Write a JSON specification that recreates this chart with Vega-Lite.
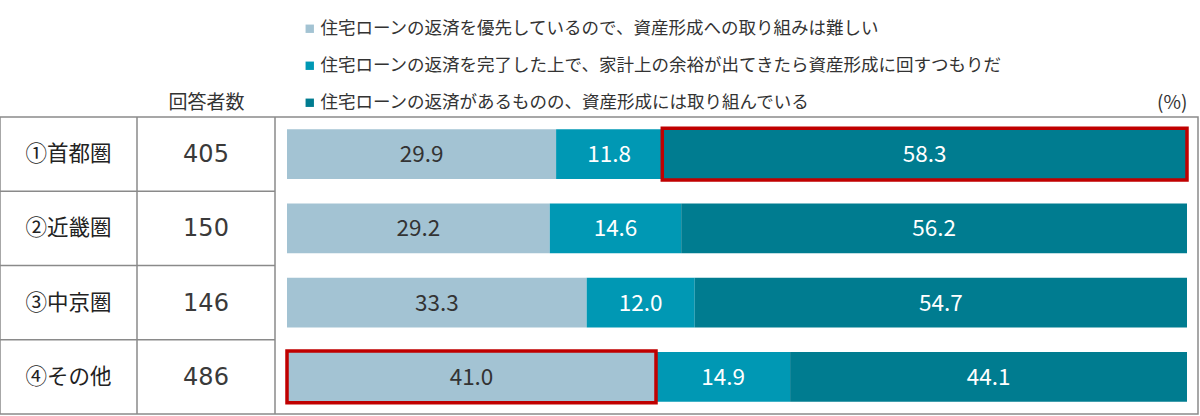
{
  "$schema": "https://vega.github.io/schema/vega-lite/v6.json",
  "width": 1198,
  "height": 297,
  "padding": {"left": 0, "top": 117, "right": 2, "bottom": 2},
  "autosize": {"type": "none"},
  "background": "white",
  "config": {
    "font": "Noto Sans CJK JP",
    "view": {"stroke": "#8a8a8a", "strokeWidth": 1.5}
  },
  "datasets": {
    "bars": [
      {"region": "①首都圏", "seg": 1, "cat": "住宅ローンの返済を優先しているので、資産形成への取り組みは難しい", "value": 29.9},
      {"region": "①首都圏", "seg": 2, "cat": "住宅ローンの返済を完了した上で、家計上の余裕が出てきたら資産形成に回すつもりだ", "value": 11.8},
      {"region": "①首都圏", "seg": 3, "cat": "住宅ローンの返済があるものの、資産形成には取り組んでいる", "value": 58.3},
      {"region": "②近畿圏", "seg": 1, "cat": "住宅ローンの返済を優先しているので、資産形成への取り組みは難しい", "value": 29.2},
      {"region": "②近畿圏", "seg": 2, "cat": "住宅ローンの返済を完了した上で、家計上の余裕が出てきたら資産形成に回すつもりだ", "value": 14.6},
      {"region": "②近畿圏", "seg": 3, "cat": "住宅ローンの返済があるものの、資産形成には取り組んでいる", "value": 56.2},
      {"region": "③中京圏", "seg": 1, "cat": "住宅ローンの返済を優先しているので、資産形成への取り組みは難しい", "value": 33.3},
      {"region": "③中京圏", "seg": 2, "cat": "住宅ローンの返済を完了した上で、家計上の余裕が出てきたら資産形成に回すつもりだ", "value": 12.0},
      {"region": "③中京圏", "seg": 3, "cat": "住宅ローンの返済があるものの、資産形成には取り組んでいる", "value": 54.7},
      {"region": "④その他", "seg": 1, "cat": "住宅ローンの返済を優先しているので、資産形成への取り組みは難しい", "value": 41.0},
      {"region": "④その他", "seg": 2, "cat": "住宅ローンの返済を完了した上で、家計上の余裕が出てきたら資産形成に回すつもりだ", "value": 14.9},
      {"region": "④その他", "seg": 3, "cat": "住宅ローンの返済があるものの、資産形成には取り組んでいる", "value": 44.1}
    ],
    "regions": [
      {"region": "①首都圏", "n": 405},
      {"region": "②近畿圏", "n": 150},
      {"region": "③中京圏", "n": 146},
      {"region": "④その他", "n": 486}
    ],
    "one": [{}]
  },
  "layer": [
    {
      "data": {"name": "bars"},
      "mark": {"type": "bar", "height": {"band": 0.673}},
      "encoding": {
        "y": {
          "field": "region", "type": "nominal",
          "scale": {"domain": ["①首都圏", "②近畿圏", "③中京圏", "④その他"], "paddingInner": 0, "paddingOuter": 0},
          "axis": null
        },
        "x": {
          "field": "value", "type": "quantitative", "stack": "zero", "title": null,
          "scale": {"domain": [-31.8889, 101.2222], "nice": false, "zero": false},
          "axis": {
            "orient": "top", "values": [-9, 98.3],
            "labelExpr": "datum.value < 0 ? '回答者数' : '(%)'",
            "domain": false, "ticks": false, "grid": false, "title": null,
            "labelFontSize": 19, "labelColor": "#333333", "labelPadding": 5,
            "labelFlush": false, "labelOverlap": false
          }
        },
        "color": {
          "field": "cat", "type": "nominal",
          "scale": {
            "domain": [
              "住宅ローンの返済を優先しているので、資産形成への取り組みは難しい",
              "住宅ローンの返済を完了した上で、家計上の余裕が出てきたら資産形成に回すつもりだ",
              "住宅ローンの返済があるものの、資産形成には取り組んでいる"
            ],
            "range": ["#a3c3d3", "#0098b4", "#007c90"]
          },
          "legend": {
            "orient": "none", "legendX": 301, "legendY": -97, "direction": "vertical",
            "title": null, "symbolType": "square", "symbolSize": 70, "symbolStrokeWidth": 0,
            "labelFontSize": 17.5, "labelColor": "#333333", "rowPadding": 18,
            "labelLimit": 0, "labelOffset": 2
          }
        },
        "order": {"field": "seg", "type": "quantitative"}
      }
    },
    {
      "data": {"name": "bars"},
      "mark": {"type": "text", "fontSize": 22.5, "baseline": "middle", "align": "center", "dy": 1},
      "encoding": {
        "y": {"field": "region", "type": "nominal"},
        "x": {"field": "value", "type": "quantitative", "stack": "zero", "bandPosition": 0.5, "title": null},
        "detail": {"field": "cat"},
        "order": {"field": "seg", "type": "quantitative"},
        "text": {"field": "value", "type": "quantitative", "format": ".1f"},
        "color": {"condition": {"test": "datum.seg == 1", "value": "#333333"}, "value": "#ffffff"}
      }
    },
    {
      "data": {"name": "bars"},
      "transform": [
        {"stack": "value", "groupby": ["region"], "sort": [{"field": "seg", "order": "ascending"}], "as": ["x0", "x1"]},
        {"filter": "(datum.region == '①首都圏' && datum.seg == 3) || (datum.region == '④その他' && datum.seg == 1)"}
      ],
      "mark": {"type": "bar", "fill": "transparent", "stroke": "#c00000", "strokeWidth": 3.5, "height": {"band": 0.7}},
      "encoding": {
        "y": {"field": "region", "type": "nominal"},
        "x": {"field": "x0", "type": "quantitative", "title": null},
        "x2": {"field": "x1"}
      }
    },
    {
      "data": {"name": "regions"},
      "transform": [{"filter": "datum.region != '①首都圏'"}],
      "mark": {"type": "rule", "color": "#8a8a8a", "strokeWidth": 1.5},
      "encoding": {
        "y": {"field": "region", "type": "nominal", "bandPosition": 0},
        "x": {"datum": -31.8889},
        "x2": {"datum": -1.3333}
      }
    },
    {
      "data": {"name": "one"},
      "mark": {"type": "rule", "color": "#8a8a8a", "strokeWidth": 1.5},
      "encoding": {"x": {"datum": -16.6667}}
    },
    {
      "data": {"name": "one"},
      "mark": {"type": "rule", "color": "#8a8a8a", "strokeWidth": 1.5},
      "encoding": {"x": {"datum": -1.3333}}
    },
    {
      "data": {"name": "regions"},
      "mark": {"type": "text", "fontSize": 21.5, "color": "#222222", "baseline": "middle", "align": "center", "dy": 1},
      "encoding": {
        "y": {"field": "region", "type": "nominal"},
        "x": {"datum": -24.28},
        "text": {"field": "region"}
      }
    },
    {
      "data": {"name": "regions"},
      "mark": {"type": "text", "fontSize": 24, "font": "DejaVu Sans", "color": "#3a3a3a", "baseline": "middle", "align": "center", "dy": 1},
      "encoding": {
        "y": {"field": "region", "type": "nominal"},
        "x": {"datum": -9.0},
        "text": {"field": "n", "type": "quantitative"}
      }
    }
  ]
}
